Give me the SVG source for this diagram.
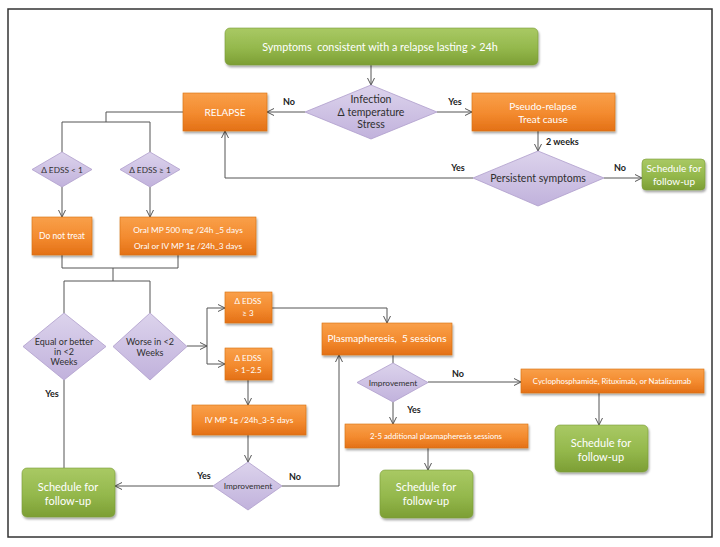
<svg xmlns="http://www.w3.org/2000/svg" width="720" height="547" viewBox="0 0 720 547">
<defs>
<linearGradient id="gOr" x1="0" y1="0" x2="0" y2="1"><stop offset="0" stop-color="#F9A04A"/><stop offset="0.55" stop-color="#F38A2E"/><stop offset="1" stop-color="#E37016"/></linearGradient>
<linearGradient id="gGr" x1="0" y1="0" x2="0" y2="1"><stop offset="0" stop-color="#A9C964"/><stop offset="0.55" stop-color="#94B84C"/><stop offset="1" stop-color="#7C9E34"/></linearGradient>
<linearGradient id="gPu" x1="0" y1="0" x2="0" y2="1"><stop offset="0" stop-color="#DCD3EC"/><stop offset="1" stop-color="#C1B2DC"/></linearGradient>
<filter id="sh" x="-10%" y="-10%" width="130%" height="140%"><feDropShadow dx="1" dy="2" stdDeviation="1.3" flood-color="#000" flood-opacity="0.35"/></filter>
<marker id="ar" viewBox="0 0 8 8" refX="7.5" refY="4" markerWidth="8" markerHeight="8" markerUnits="userSpaceOnUse" orient="auto"><path d="M0.5,0.5 L7.5,4 L0.5,7.5" fill="none" stroke="#555" stroke-width="1"/></marker>
</defs>
<style>
.or{fill:url(#gOr);stroke:#D86E12;stroke-width:0.6;filter:url(#sh)}
.gr{fill:url(#gGr);stroke:#7A9A38;stroke-width:0.6;filter:url(#sh)}
.pu{fill:url(#gPu);stroke:#AE9DCB;stroke-width:0.8}
text{font-family:Lato,"Open Sans","Liberation Sans",sans-serif;text-anchor:middle}
.w{fill:#FFFFFF}
.d{fill:#2F2F2F}
.lab{fill:#222;font-weight:bold;font-size:9px;text-anchor:middle}
.c{fill:none;stroke:#555;stroke-width:1}
.a{marker-end:url(#ar)}
</style>
<rect x="0" y="0" width="720" height="547" fill="#FFFFFF"/>
<rect x="8" y="9" width="704" height="528" fill="none" stroke="#333" stroke-width="1.5"/>

<g id="connectors">
<path class="c a" d="M371,65 V85"/>
<path class="c a" d="M305,112 H267"/>
<path class="c a" d="M437,112 H472"/>
<path class="c a" d="M538,131 V151"/>
<path class="c a" d="M604,178 H642"/>
<path class="c a" d="M473,178 H225 V131"/>
<path class="c" d="M183,112 H106 V122 M62,152 V122 H150 V152"/>
<path class="c a" d="M62,187 V217"/>
<path class="c a" d="M150,187 V217"/>
<path class="c" d="M62,255 V268 H178 V255 M113,268 V281 M64,313 V281 H150 V313"/>
<path class="c a" d="M187,346 H207"/>
<path class="c a" d="M207,346 V308 H225"/>
<path class="c a" d="M207,346 V364 H225"/>
<path class="c" d="M64,380 V468"/>
<path class="c a" d="M272,308 H387 V323"/>
<path class="c a" d="M248,380 V405"/>
<path class="c a" d="M248,435 V462"/>
<path class="c a" d="M213,486 H115"/>
<path class="c a" d="M282,486 H339 V355"/>
<path class="c" d="M393,355 V363"/>
<path class="c a" d="M428,382 H521"/>
<path class="c a" d="M393,402 V424"/>
<path class="c a" d="M599,393 V425"/>
<path class="c a" d="M428,448 V470"/>
<text class="lab" x="289" y="105">No</text>
<text class="lab" x="455" y="105">Yes</text>
<text class="lab" x="546" y="145" style="text-anchor:start">2 weeks</text>
<text class="lab" x="620" y="171">No</text>
<text class="lab" x="458" y="171">Yes</text>
<text class="lab" x="52" y="397">Yes</text>
<text class="lab" x="204" y="479">Yes</text>
<text class="lab" x="295" y="480">No</text>
<text class="lab" x="458" y="377">No</text>
<text class="lab" x="414" y="413">Yes</text>
</g>

<g id="n_start"><rect class="gr" x="225" y="28" width="313" height="37" rx="5"/><text class="w" x="380" y="51" font-size="10.8" style="white-space:pre">Symptoms  consistent with a relapse lasting &gt; 24h</text></g>
<g id="d_infection"><polygon class="pu" points="371,85 437,112 371,139 305,112"/><text class="d" font-size="10.5"><tspan x="371" y="103">Infection</tspan><tspan x="371" y="116">Δ temperature</tspan><tspan x="371" y="128">Stress</tspan></text></g>
<g id="n_relapse"><rect class="or" x="183" y="93" width="84" height="38"/><text class="w" x="225" y="116" font-size="10">RELAPSE</text></g>
<g id="n_pseudo"><rect class="or" x="472" y="93" width="143" height="38"/><text class="w" font-size="10"><tspan x="543" y="110">Pseudo-relapse</tspan><tspan x="543" y="123">Treat cause</tspan></text></g>
<g id="d_persist"><polygon class="pu" points="538,151 604,178 538,206 473,178"/><text class="d" x="538" y="182" font-size="10.5">Persistent symptoms</text></g>
<g id="n_follow1"><rect class="gr" x="642" y="159" width="63" height="31" rx="4"/><text class="w" font-size="10"><tspan x="674" y="172">Schedule for</tspan><tspan x="674" y="185">follow-up</tspan></text></g>
<g id="d_edss_lt1"><polygon class="pu" points="62,152 92,169.5 62,187 32,169.5"/><text class="d" x="62" y="172.5" font-size="8.3">Δ EDSS &lt; 1</text></g>
<g id="d_edss_ge1"><polygon class="pu" points="150,152 180,169.5 150,187 120,169.5"/><text class="d" x="150" y="172.5" font-size="8.3">Δ EDSS ≥ 1</text></g>
<g id="n_donottreat"><rect class="or" x="32" y="217" width="60" height="38"/><text class="w" x="62" y="239" font-size="8.5">Do not treat</text></g>
<g id="n_oralmp"><rect class="or" x="120" y="217" width="136" height="38"/><text class="w" font-size="8.3"><tspan x="188" y="233">Oral MP 500 mg /24h _5 days</tspan><tspan x="188" y="249">Oral or IV MP 1g /24h_3 days</tspan></text></g>
<g id="d_equal"><polygon class="pu" points="64,313 106,346.5 64,380 23,346.5"/><text class="d" font-size="9"><tspan x="64" y="345">Equal or better</tspan><tspan x="64" y="355">in &lt;2</tspan><tspan x="64" y="365">Weeks</tspan></text></g>
<g id="d_worse"><polygon class="pu" points="150,313 187,346.5 150,380 113,346.5"/><text class="d" font-size="9"><tspan x="150" y="345">Worse in &lt;2</tspan><tspan x="150" y="356">Weeks</tspan></text></g>
<g id="n_edss3"><rect class="or" x="225" y="292" width="47" height="31"/><text class="w" font-size="8"><tspan x="248" y="304">Δ EDSS</tspan><tspan x="248" y="316">≥ 3</tspan></text></g>
<g id="n_edss1"><rect class="or" x="225" y="348" width="47" height="32"/><text class="w" font-size="8"><tspan x="248" y="361">Δ EDSS</tspan><tspan x="248" y="373">&gt; 1–2.5</tspan></text></g>
<g id="n_ivmp"><rect class="or" x="192" y="405" width="114" height="30"/><text class="w" x="249" y="423" font-size="8.3">IV MP 1g /24h_3-5 days</text></g>
<g id="d_improve1"><polygon class="pu" points="248,462 282,486 248,510 213,486"/><text class="d" x="248" y="489" font-size="8.3">Improvement</text></g>
<g id="n_follow2"><rect class="gr" x="22" y="468" width="93" height="49" rx="5"/><text class="w" font-size="11"><tspan x="68" y="491">Schedule for</tspan><tspan x="68" y="505">follow-up</tspan></text></g>
<g id="n_plasma"><rect class="or" x="322" y="323" width="130" height="32"/><text class="w" x="387" y="342" font-size="10" style="white-space:pre">Plasmapheresis,  5 sessions</text></g>
<g id="d_improve2"><polygon class="pu" points="393,363 428,382.5 393,402 357,382.5"/><text class="d" x="393" y="385.5" font-size="8.3">Improvement</text></g>
<g id="n_cyclo"><rect class="or" x="521" y="369" width="183" height="24"/><text class="w" x="612" y="384" font-size="7.8">Cyclophosphamide, Rituximab, or Natalizumab</text></g>
<g id="n_follow3"><rect class="gr" x="555" y="425" width="93" height="47" rx="5"/><text class="w" font-size="11"><tspan x="601" y="447">Schedule for</tspan><tspan x="601" y="461">follow-up</tspan></text></g>
<g id="n_addl"><rect class="or" x="345" y="424" width="183" height="24"/><text class="w" x="436" y="439" font-size="7.8">2-5 additional plasmapheresis sessions</text></g>
<g id="n_follow4"><rect class="gr" x="380" y="470" width="93" height="48" rx="5"/><text class="w" font-size="11"><tspan x="426" y="491">Schedule for</tspan><tspan x="426" y="505">follow-up</tspan></text></g>
</svg>
